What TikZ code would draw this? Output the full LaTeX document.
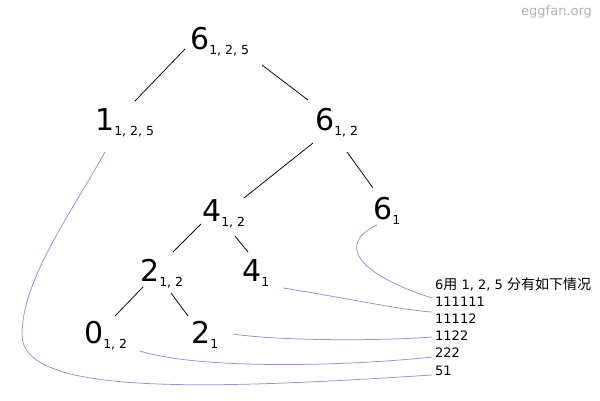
\documentclass[tikz,border=0pt]{standalone}
\usepackage{fontspec}
\setmainfont{DejaVu Sans}
\newfontfamily\cjk{Noto Sans CJK SC}
\definecolor{curvecol}{RGB}{146,146,214}
\definecolor{markcol}{RGB}{180,180,180}
\newcommand\tnum[2]{{\fontsize{30}{30}\selectfont #1}\raisebox{-5.5pt}{\fontsize{12.5}{13}\selectfont #2}}
\begin{document}
\begin{tikzpicture}[x=1pt,y=-1pt,
  tn/.style={anchor=base west, inner sep=0pt},
  edge/.style={line width=0.75pt, black},
  link/.style={line width=0.75pt, curvecol},
  lab/.style={anchor=base west, inner sep=0pt, font=\fontsize{13}{14}\selectfont}]
\useasboundingbox (0,0) rectangle (600,400);
% watermark
\node[anchor=base west, inner sep=0pt, text=markcol, font=\fontsize{13}{14}\selectfont] (wm) at (521,15) {eggfan.org};
% tree nodes
\node[tn] (r) at (190,49) {\tnum{6}{1, 2, 5}};
\node[tn] (a) at (95,130) {\tnum{1}{1, 2, 5}};
\node[tn] (b) at (315,130) {\tnum{6}{1, 2}};
\node[tn] (c) at (202,221) {\tnum{4}{1, 2}};
\node[tn] (d) at (373,219) {\tnum{6}{1}};
\node[tn] (e) at (140,281) {\tnum{2}{1, 2}};
\node[tn] (f) at (242,281) {\tnum{4}{1}};
\node[tn] (g) at (84,343) {\tnum{0}{1, 2}};
\node[tn] (h) at (191,343) {\tnum{2}{1}};
% labels
\node[lab] (l0) at (435,289) {6{\cjk\fontsize{14}{14}\selectfont 用} 1, 2, 5 {\cjk\fontsize{14}{14}\selectfont 分有如下情况}};
\node[lab] (l1) at (435,306.2) {111111};
\node[lab] (l2) at (435,323.4) {11112};
\node[lab] (l3) at (435,340.6) {1122};
\node[lab] (l4) at (435,357.8) {222};
\node[lab] (l5) at (435,375) {51};
% tree edges
\draw[edge] ([shift={(-5,0)}]r.base west) -- ([shift={(40,-29)}]a.base west);
\draw[edge] ([shift={(72,16)}]r.base west) -- ([shift={(-7,-30)}]b.base west);
\draw[edge] ([shift={(-2,13)}]b.base west) -- ([shift={(42,-23)}]c.base west);
\draw[edge] ([shift={(32,22)}]b.base west) -- ([shift={(0,-31)}]d.base west);
\draw[edge] ([shift={(-1,3)}]c.base west) -- ([shift={(33,-29)}]e.base west);
\draw[edge] ([shift={(33,15)}]c.base west) -- ([shift={(6,-29)}]f.base west);
\draw[edge] ([shift={(3,6)}]e.base west) -- ([shift={(31,-27)}]g.base west);
\draw[edge] ([shift={(31,12)}]e.base west) -- ([shift={(-3,-27)}]h.base west);
% curves to labels
\draw[link] ([shift={(4,6)}]d.base west) .. controls (335,245) and (360,275) .. ([shift={(-3,-8.2)}]l1.base west);
\draw[link] ([shift={(41,7)}]f.base west) .. controls (330,295) and (400,310) .. ([shift={(-3,-11.4)}]l2.base west);
\draw[link] ([shift={(42,-9)}]h.base west) .. controls (280,341) and (380,341) .. ([shift={(-3,-3.6)}]l3.base west);
\draw[link] ([shift={(56,8)}]g.base west) .. controls (200,370) and (350,366) .. ([shift={(-3,-0.8)}]l4.base west);
\draw[link] ([shift={(10,22)}]a.base west) .. controls (70,215) and (22,280) .. (22,335) .. controls (22,395) and (200,390) .. ([shift={(-3,0)}]l5.base west);
\end{tikzpicture}
\end{document}
